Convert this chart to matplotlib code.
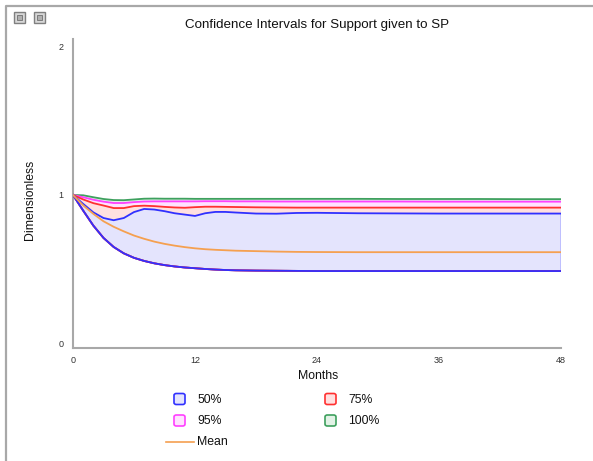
import matplotlib
matplotlib.use("Agg")
import matplotlib.pyplot as plt
from matplotlib.patches import FancyBboxPatch, Rectangle
from matplotlib.lines import Line2D

plt.rcParams['font.family'] = ['Liberation Sans', 'DejaVu Sans']

# ---- data ----
months = [0, 1, 2, 3, 4, 5, 6, 7, 8, 9, 10, 11, 12, 13, 14, 15, 16, 18, 20, 22, 24, 28, 32, 36, 40, 44, 48]

lower = [1.000, 0.895, 0.794, 0.711, 0.650, 0.607, 0.577, 0.556, 0.540, 0.528, 0.519, 0.512, 0.507,
         0.502, 0.498, 0.495, 0.493, 0.491, 0.490, 0.489, 0.488, 0.488, 0.488, 0.488, 0.488, 0.488, 0.488]

upper_50 = [1.000, 0.940, 0.883, 0.845, 0.830, 0.845, 0.885, 0.906, 0.902, 0.891, 0.877, 0.868, 0.859,
            0.877, 0.886, 0.886, 0.882, 0.875, 0.874, 0.879, 0.880, 0.877, 0.876, 0.875, 0.875, 0.875, 0.875]

upper_75 = [1.000, 0.970, 0.945, 0.929, 0.912, 0.912, 0.925, 0.928, 0.925, 0.920, 0.916, 0.914, 0.918,
            0.921, 0.921, 0.920, 0.919, 0.917, 0.916, 0.915, 0.915, 0.915, 0.915, 0.915, 0.915, 0.915, 0.915]

upper_95 = [1.000, 0.985, 0.968, 0.955, 0.946, 0.946, 0.952, 0.956, 0.957, 0.957, 0.957, 0.957, 0.957,
            0.958, 0.958, 0.958, 0.957, 0.957, 0.956, 0.956, 0.956, 0.956, 0.956, 0.955, 0.955, 0.955, 0.955]

upper_100 = [1.000, 0.998, 0.985, 0.973, 0.966, 0.965, 0.970, 0.975, 0.976, 0.975, 0.975, 0.975, 0.974,
             0.974, 0.974, 0.974, 0.974, 0.974, 0.974, 0.974, 0.974, 0.974, 0.973, 0.973, 0.973, 0.972, 0.972]

mean = [1.000, 0.930, 0.873, 0.823, 0.786, 0.755, 0.727, 0.705, 0.686, 0.671, 0.659, 0.649, 0.641,
        0.635, 0.631, 0.628, 0.625, 0.622, 0.619, 0.617, 0.616, 0.615, 0.615, 0.615, 0.615, 0.615, 0.615]

band_labels = ['50%', '75%', '95%', '100%']
x_ticks = [0, 12, 24, 36, 48]
y_ticks = [0, 1, 2]

# ---- styles ----
band_fill = {'100%': '#e2f2e6', '95%': '#ffe2ff', '75%': '#ffe0e0', '50%': '#e4e4fd'}
band_edge = {'100%': '#3ea05e', '95%': '#ff40ff', '75%': '#ff3030', '50%': '#3030ff'}
uppers = {'50%': upper_50, '75%': upper_75, '95%': upper_95, '100%': upper_100}

W, H = 593, 461
fig = plt.figure(figsize=(W / 100, H / 100), dpi=100)

ax = fig.add_axes([73 / W, 1 - 348 / H, (561 - 73) / W, (348 - 39) / H])
ax.set_xlim(0, 48)
ax.set_ylim(-0.03, 2.05)

for lab in ['100%', '95%', '75%', '50%']:
    ax.fill_between(months, lower, uppers[lab], facecolor=band_fill[lab], edgecolor='none', zorder=1)
ax.plot([48, 48], [lower[-1], upper_50[-1]], color='#b8b8ff', lw=1.2, zorder=2)

for lab in ['100%', '95%', '75%', '50%']:
    ax.plot(months, uppers[lab], color=band_edge[lab], lw=1.3, zorder=3)
    ax.plot(months, lower, color=band_edge[lab], lw=1.3, zorder=3)
ax.plot(months, mean, color='#f5a050', lw=1.3, zorder=4)

for s in ['top', 'right']:
    ax.spines[s].set_visible(False)
for s in ['left', 'bottom']:
    ax.spines[s].set_color('#a8a8a8')
    ax.spines[s].set_linewidth(1.5)
ax.set_xticks(x_ticks)
ax.set_yticks(y_ticks)
ax.tick_params(length=0, labelsize=6.5, labelcolor='#333333')
ax.tick_params(axis='y', pad=7)
ax.tick_params(axis='x', pad=6)
ax.set_facecolor('white')

def px(x, y):
    return x / W, 1 - y / H

fig.text(*px(317, 25), 'Confidence Intervals for Support given to SP', ha='center', va='center',
         fontsize=9.6, color='#111111')
fig.text(*px(30, 200), 'Dimensionless', ha='center', va='center', rotation=90, fontsize=8.8, color='#111111')
fig.text(*px(318, 376), 'Months', ha='center', va='center', fontsize=8.8, color='#111111')

# legend (drawn manually)
legend_pos = {'50%': (174, 393.5), '75%': (325, 393.5), '95%': (174, 415), '100%': (325, 415)}
for lab in band_labels:
    x0, y0 = legend_pos[lab]
    bx, by = px(x0, y0 + 11)
    fig.patches.append(FancyBboxPatch((bx, by), 11 / W, 11 / H,
                                      boxstyle='round,pad=0,rounding_size=0.004',
                                      transform=fig.transFigure, facecolor=band_fill[lab],
                                      edgecolor=band_edge[lab], lw=1.2))
    fig.text(*px(x0 + 23, y0 + 6), lab, ha='left', va='center', fontsize=8.8, color='#111111')
fig.lines.append(Line2D([166 / W, 194 / W], [1 - 442 / H, 1 - 442 / H], transform=fig.transFigure,
                        color='#f5a050', lw=1.2))
fig.text(*px(197, 442), 'Mean', ha='left', va='center', fontsize=8.8, color='#111111')

# window frame and icons
fig.lines.append(Line2D([5.5 / W, 5.5 / W, 1.0], [0.0, 1 - 6 / H, 1 - 6 / H], transform=fig.transFigure,
                        color='#a8a8a8', lw=1.6))
for ix in (14, 34):
    rx, ry = px(ix, 23)
    fig.patches.append(Rectangle((rx, ry), 11 / W, 11 / H, transform=fig.transFigure,
                                 facecolor='#d8d8d8', edgecolor='#808080', lw=1))
    ix2, iy2 = px(ix + 3, 20)
    fig.patches.append(Rectangle((ix2, iy2), 5 / W, 5 / H, transform=fig.transFigure,
                                 facecolor='#b0b0b0', edgecolor='#707070', lw=0.6))

fig.savefig('out.png', dpi=100, facecolor='white')
